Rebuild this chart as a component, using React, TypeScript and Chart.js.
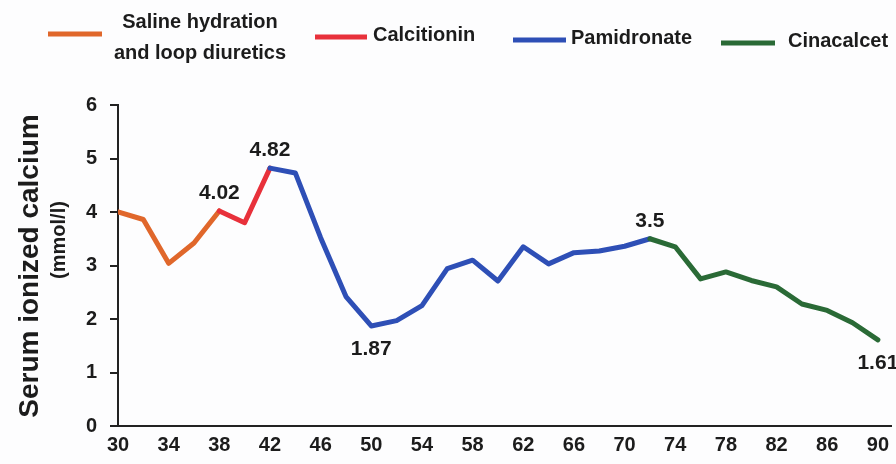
import React, { useEffect, useRef } from "react";
import { Chart, registerables } from "chart.js";

Chart.register(...registerables);

// ---- data ----
const days = [30, 32, 34, 36, 38, 40, 42, 44, 46, 48, 50, 52, 54, 56, 58, 60, 62, 64, 66, 68, 70, 72, 74, 76, 78, 80, 82, 84, 86, 88, 90];
const calcium = [4.0, 3.86, 3.04, 3.42, 4.02, 3.8, 4.82, 4.73, 3.52, 2.42, 1.87, 1.97, 2.25, 2.94, 3.1, 2.71, 3.35, 3.03, 3.24, 3.27, 3.36, 3.5, 3.35, 2.75, 2.88, 2.72, 2.6, 2.28, 2.16, 1.93, 1.61];
const xTickValues = [30, 34, 38, 42, 46, 50, 54, 58, 62, 66, 70, 74, 78, 82, 86, 90];
const yTickValues = [0, 1, 2, 3, 4, 5, 6];

const phaseNames = ["Saline hydration\nand loop diuretics", "Calcitionin", "Pamidronate", "Cinacalcet"];
const phaseStartDays = [30, 38, 42, 72];
const phaseColors = ["#E0672B", "#E8313B", "#2E4FB6", "#2A6A36"];

const annotatedDays = [38, 42, 50, 72, 90];
const annotatedSide = ["above", "above", "below", "above", "below"];

const yTitle = "Serum ionized calcium";
const yUnit = "(mmol/l)";

const TEXT = "#1c1c1c";
const FONT = "'Liberation Sans', Arial, sans-serif";

function phaseOf(day: number) {
  let idx = 0;
  for (let i = 0; i < phaseStartDays.length; i++) if (day >= phaseStartDays[i]) idx = i;
  return idx;
}

const decorPlugin = {
  id: "decor",
  beforeDraw(chart: any) {
    const ctx = chart.ctx;
    ctx.save();
    ctx.fillStyle = "#fdfdfe";
    ctx.fillRect(0, 0, chart.width, chart.height);
    ctx.restore();
  },
  afterDatasetsDraw(chart: any) {
    const ctx = chart.ctx;
    const meta = chart.getDatasetMeta(0);
    ctx.save();
    ctx.fillStyle = TEXT;
    ctx.font = `bold 21px ${FONT}`;
    ctx.textAlign = "center";
    ctx.textBaseline = "alphabetic";
    annotatedDays.forEach((d, k) => {
      const i = days.indexOf(d);
      const pt = meta.data[i];
      const y = annotatedSide[k] === "above" ? pt.y - 12 : pt.y + 29;
      ctx.fillText(String(calcium[i]), pt.x, y);
    });
    ctx.restore();
  },
  afterDraw(chart: any) {
    const ctx = chart.ctx;
    ctx.save();
    ctx.fillStyle = TEXT;
    // legend
    const lineY = [34, 37, 40, 43];
    const lineX = [[48, 102], [315, 367], [513, 566], [721, 775]];
    const textX = [200, 373, 571, 788];
    phaseNames.forEach((name, i) => {
      ctx.strokeStyle = phaseColors[i];
      ctx.lineWidth = 5;
      ctx.beginPath();
      ctx.moveTo(lineX[i][0], lineY[i]);
      ctx.lineTo(lineX[i][1], lineY[i]);
      ctx.stroke();
      ctx.font = `bold 20px ${FONT}`;
      ctx.textBaseline = "middle";
      const lines = name.split("\n");
      if (lines.length > 1) {
        ctx.textAlign = "center";
        ctx.fillText(lines[0], textX[i], 22);
        ctx.fillText(lines[1], textX[i], 53);
      } else {
        ctx.textAlign = "left";
        ctx.fillText(name, textX[i], lineY[i] - 2);
      }
    });
    // y title
    ctx.textAlign = "center";
    ctx.textBaseline = "middle";
    ctx.save();
    ctx.translate(30, 266);
    ctx.rotate(-Math.PI / 2);
    ctx.font = `bold 28px ${FONT}`;
    ctx.fillText(yTitle, 0, 0);
    ctx.restore();
    ctx.save();
    ctx.translate(59, 240);
    ctx.rotate(-Math.PI / 2);
    ctx.font = `bold 20px ${FONT}`;
    ctx.fillText(yUnit, 0, 0);
    ctx.restore();
    ctx.restore();
  },
};

export default function App() {
  const ref = useRef<HTMLCanvasElement>(null);
  useEffect(() => {
    if (!ref.current) return;
    const chart = new Chart(ref.current, {
      type: "line",
      data: {
        datasets: [
          {
            data: days.map((d, i) => ({ x: d, y: calcium[i] })),
            borderWidth: 5,
            borderColor: phaseColors[0],
            pointRadius: 0,
            tension: 0,
            borderJoinStyle: "round",
            borderCapStyle: "round",
            segment: {
              borderColor: (c: any) => phaseColors[phaseOf(c.p0.parsed.x)],
            },
          } as any,
        ],
      },
      options: {
        responsive: false,
        animation: false,
        events: [],
        layout: { padding: { left: 0, top: 105, right: 0, bottom: 0 } },
        plugins: { legend: { display: false }, tooltip: { enabled: false } },
        scales: {
          x: {
            type: "linear",
            min: 30,
            max: 91.1,
            afterBuildTicks: (s: any) => {
              s.ticks = xTickValues.map((v) => ({ value: v }));
            },
            afterFit: (s: any) => {
              s.height = 38;
            },
            ticks: {
              autoSkip: false,
              maxRotation: 0,
              padding: 7,
              color: TEXT,
              font: { family: FONT, size: 20, weight: "bold" },
              callback: (v: any) => String(v),
            },
            grid: { display: true, drawOnChartArea: false, drawTicks: false },
            border: { display: true, color: "#222", width: 2 },
          },
          y: {
            min: 0,
            max: 6,
            afterBuildTicks: (s: any) => {
              s.ticks = yTickValues.map((v) => ({ value: v }));
            },
            afterFit: (s: any) => {
              s.width = 118;
            },
            ticks: {
              padding: 13,
              color: TEXT,
              font: { family: FONT, size: 20, weight: "bold" },
            },
            grid: { drawOnChartArea: false, drawTicks: true, tickLength: 8, color: "#222", lineWidth: 2 },
            border: { display: true, color: "#222", width: 2 },
          },
        },
      } as any,
      plugins: [decorPlugin],
    });
    return () => chart.destroy();
  }, []);
  return (
    <div style={{ position: "absolute", left: 0, top: 0, width: 896, height: 464, background: "#fff" }}>
      <canvas ref={ref} width={896} height={464} style={{ display: "block" }} />
    </div>
  );
}
